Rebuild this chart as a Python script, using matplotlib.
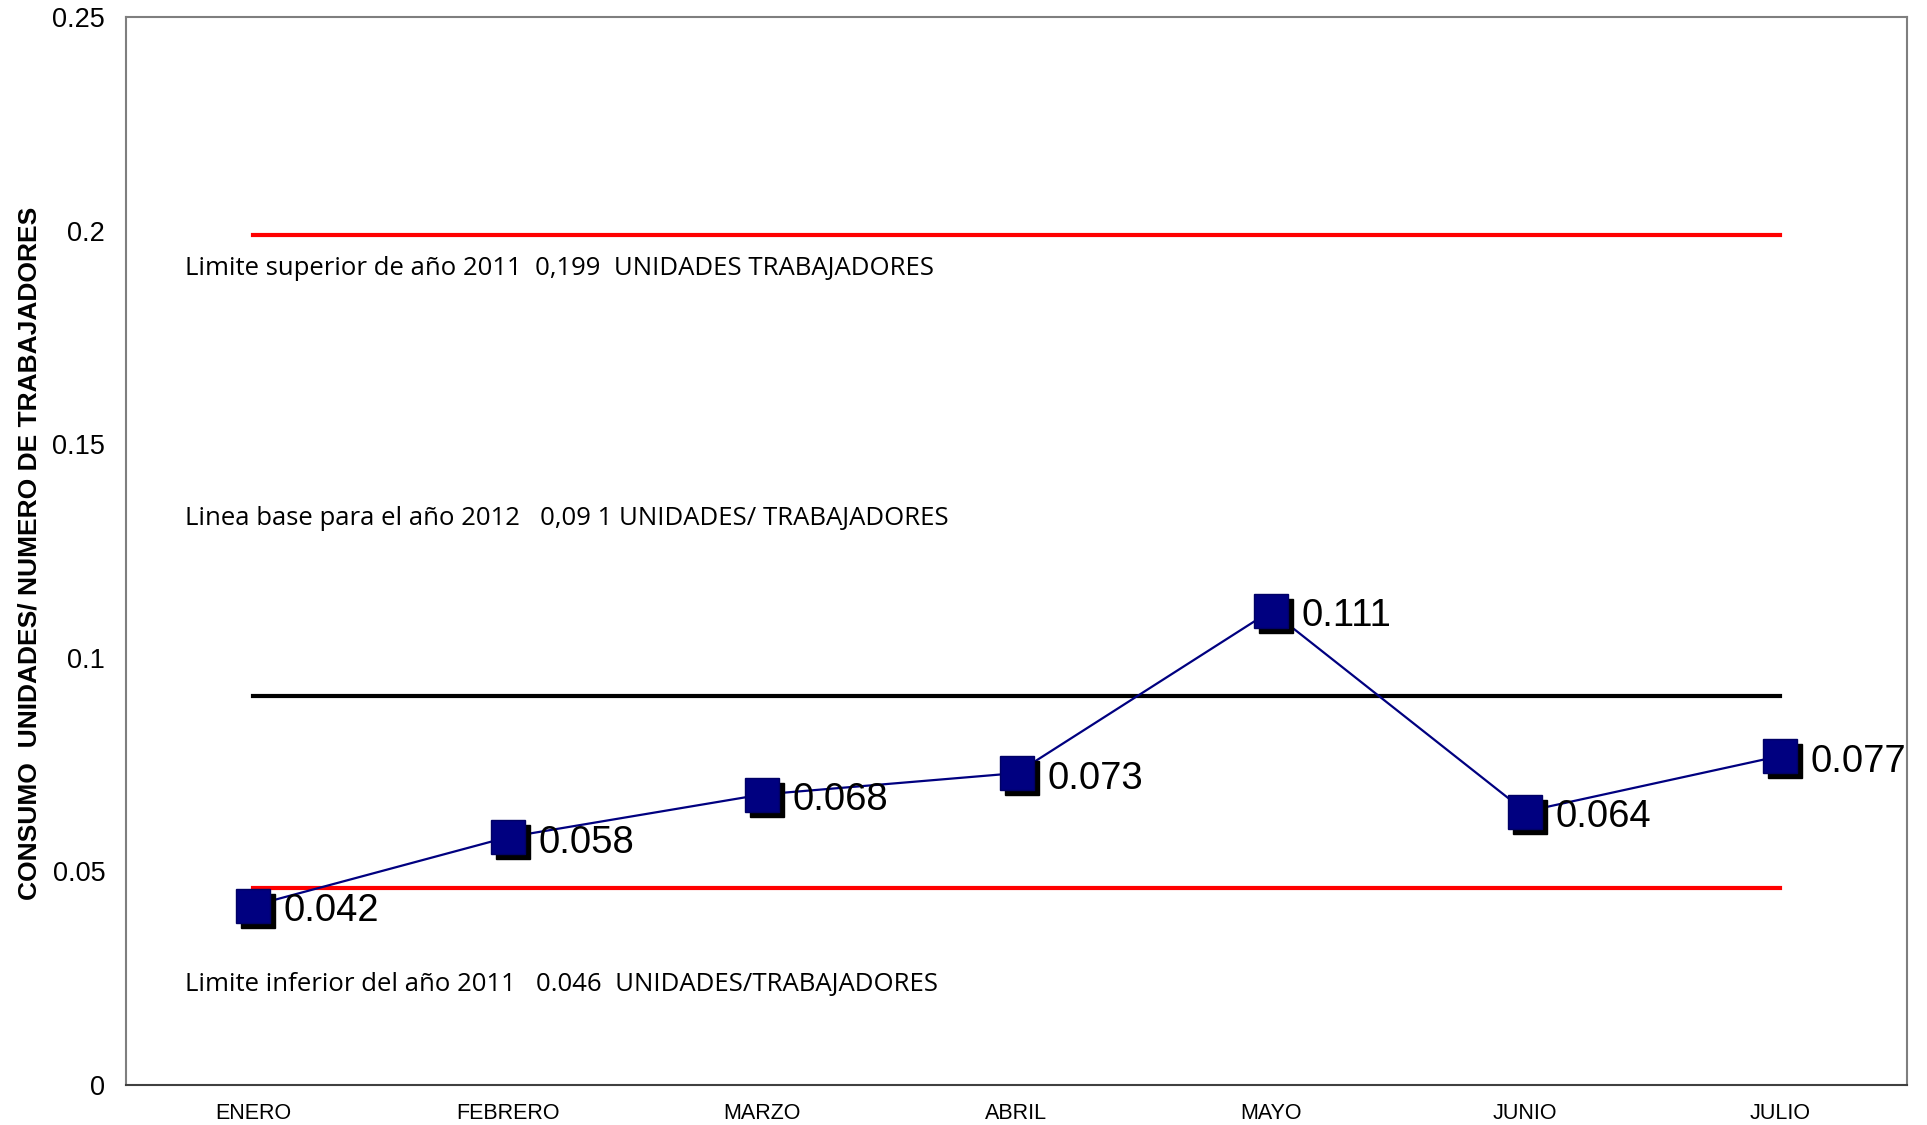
import matplotlib
matplotlib.use("Agg")
import matplotlib.pyplot as plt
from matplotlib.transforms import offset_copy

# data
meses = ["ENERO", "FEBRERO", "MARZO", "ABRIL", "MAYO", "JUNIO", "JULIO"]
consumo = [0.042, 0.058, 0.068, 0.073, 0.111, 0.064, 0.077]
limite_superior = 0.199
linea_base = 0.091
limite_inferior = 0.046

textos = [
    "Limite superior de año 2011  0,199  UNIDADES TRABAJADORES",
    "Linea base para el año 2012   0,09 1 UNIDADES/ TRABAJADORES",
    "Limite inferior del año 2011   0.046  UNIDADES/TRABAJADORES",
]
textos_y = [0.1912, 0.1325, 0.0235]

plt.rcParams['font.family'] = ['Liberation Sans', 'DejaVu Sans']

fig = plt.figure(figsize=(19.27, 11.25), dpi=100)
ax = fig.add_axes([126 / 1927, 40 / 1125, (1907 - 126) / 1927, (1085 - 17) / 1125])
x = list(range(len(meses)))

# horizontal reference lines
ax.plot([x[0], x[-1]], [limite_superior] * 2, color="#ff0000", lw=3, zorder=2)
ax.plot([x[0], x[-1]], [limite_inferior] * 2, color="#ff0000", lw=3, zorder=2)
ax.plot([x[0], x[-1]], [linea_base] * 2, color="black", lw=3, zorder=2)

# series line
ax.plot(x, consumo, color="#000080", lw=1.6, zorder=3)

# shadow of the markers
shadow = offset_copy(ax.transData, fig=fig, x=5, y=-5, units="dots")
ax.plot(x, consumo, ls="none", marker="s", ms=25, color="black",
        transform=shadow, zorder=4)
ax.plot(x, consumo, ls="none", marker="s", ms=25, mfc="#000080",
        mec="#000066", mew=1, zorder=5)

for xi, v in zip(x, consumo):
    ax.annotate(f"{v:.3f}", (xi, v), xytext=(22, -4), textcoords="offset points",
                ha="left", va="center", fontsize=27.5, zorder=6)

for t, ty in zip(textos, textos_y):
    ax.text(-0.27, ty, t, fontsize=18.5, family=["Open Sans", "DejaVu Sans"],
            ha="left", va="center")

ax.set_xlim(-0.5, 6.5)
ax.set_ylim(0, 0.25)
ax.set_xticks(x)
ax.set_xticklabels(meses, fontsize=15.5)
ax.set_yticks([0, 0.05, 0.1, 0.15, 0.2, 0.25])
ax.set_yticklabels(["0", "0.05", "0.1", "0.15", "0.2", "0.25"], fontsize=19.5)
ax.tick_params(length=0)
ax.tick_params(axis="y", pad=15)
ax.tick_params(axis="x", pad=13)
for s in ax.spines.values():
    s.set_color("#7f7f7f")
    s.set_linewidth(1.5)
ax.spines["bottom"].set_color("#404040")

fig.text(30 / 1927, 1 - 553 / 1125, "CONSUMO  UNIDADES/ NUMERO DE TRABAJADORES",
         rotation=90, ha="center", va="center", fontsize=19, fontweight="bold")

fig.savefig("out.png", dpi=100)
